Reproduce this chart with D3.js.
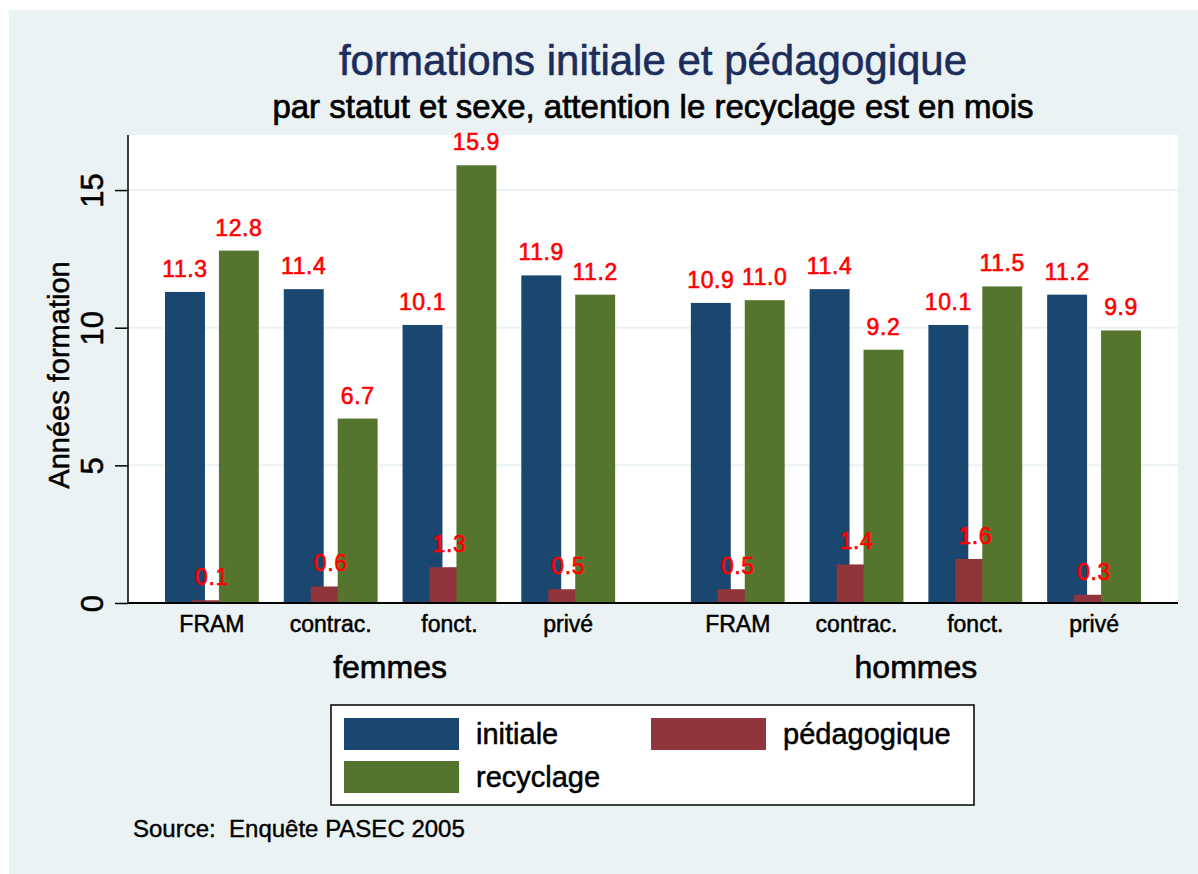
<!DOCTYPE html>
<html>
<head>
<meta charset="utf-8">
<script src="https://cdn.jsdelivr.net/npm/d3@7"></script>
<style>
  body { margin: 0; background: #fff; }
  text { font-family: "Liberation Sans", Arial, sans-serif; }
</style>
</head>
<body>
<div id="chart"></div>
<script>
// data
const sexes = ["femmes", "hommes"];
const statuts = ["FRAM", "contrac.", "fonct.", "privé"];
const series = ["initiale", "pédagogique", "recyclage"];
const initiale = [[11.3, 11.4, 10.1, 11.9], [10.9, 11.4, 10.1, 11.2]];
const pedagogique = [[0.1, 0.6, 1.3, 0.5], [0.5, 1.4, 1.6, 0.3]];
const recyclage = [[12.8, 6.7, 15.9, 11.2], [11.0, 9.2, 11.5, 9.9]];
const yTicks = [0, 5, 10, 15];

const colors = { "initiale": "#1a476f", "pédagogique": "#90353b", "recyclage": "#55752f" };
const values = { "initiale": initiale, "pédagogique": pedagogique, "recyclage": recyclage };

const W = 1198, H = 874;
const svg = d3.select("#chart").append("svg")
  .attr("width", W)
  .attr("height", H);

// thicker text, the reference looks a bit heavier than plain regular
function heavy(sel, color, w) {
  sel.style("fill", color).style("stroke", color).style("stroke-width", w || 0.5);
}

// outer background
svg.append("rect").attr("x", 9).attr("y", 10).attr("width", W - 9).attr("height", H - 10)
  .attr("fill", "#eaf2f3");

const plot = { left: 128, right: 1178, top: 135, bottom: 603 };

svg.append("rect")
  .attr("x", plot.left).attr("y", plot.top)
  .attr("width", plot.right - plot.left).attr("height", plot.bottom - plot.top)
  .attr("fill", "#fff");

const y = d3.scaleLinear().domain([0, 17]).range([plot.bottom, plot.top]);

const x0 = d3.scaleBand().domain(sexes).range([plot.left, plot.right])
  .paddingInner(0.144).paddingOuter(0.0704);
const x1 = d3.scaleBand().domain(statuts).range([0, x0.bandwidth()]).paddingInner(0.21);

// bars overlap a little (bar gap negative)
const overlapStep = 0.675;
const barW = x1.bandwidth() / (1 + 2 * overlapStep);
const xs = d3.scaleLinear().domain([0, 1]).range([0, barW * overlapStep]);

// gridlines
svg.append("g").selectAll("line")
  .data(yTicks.filter(d => d > 0))
  .enter().append("line")
  .attr("x1", plot.left).attr("x2", plot.right)
  .attr("y1", d => y(d)).attr("y2", d => y(d))
  .attr("stroke", "#eaf2f3").attr("stroke-width", 2);

// build rows
const rows = [];
sexes.forEach((s, si) => {
  statuts.forEach((st, ci) => {
    series.forEach((k, ki) => {
      rows.push({ sexe: s, statut: st, key: k, idx: ki, value: values[k][si][ci] });
    });
  });
});

const barX = d => x0(d.sexe) + x1(d.statut) + xs(d.idx);

svg.append("g").selectAll("rect")
  .data(rows)
  .enter().append("rect")
  .attr("x", barX)
  .attr("y", d => y(d.value))
  .attr("width", barW)
  .attr("height", d => y(0) - y(d.value))
  .attr("fill", d => colors[d.key]);

// value labels
svg.append("g").selectAll("text")
  .data(rows)
  .enter().append("text")
  .attr("x", d => barX(d) + barW / 2)
  .attr("y", d => y(d.value) - 15)
  .attr("text-anchor", "middle")
  .style("font-size", "23px")
  .style("letter-spacing", "0.6px")
  .call(heavy, "#ff0000", 0.6)
  .text(d => d.value.toFixed(1));

// axes
const yAxis = svg.append("g")
  .attr("transform", `translate(${plot.left},0)`)
  .call(d3.axisLeft(y).tickValues(yTicks).tickSize(13).tickFormat(d3.format("d")));
yAxis.select(".domain").attr("d", `M0,${plot.top}V${plot.bottom}`).attr("stroke", "#000").attr("stroke-width", 1.5);
yAxis.selectAll(".tick line").attr("stroke", "#000").attr("stroke-width", 1.5);
yAxis.selectAll(".tick text")
  .attr("x", 0).attr("y", 0).attr("dy", null)
  .attr("transform", "translate(-25,0) rotate(-90)")
  .attr("text-anchor", "middle")
  .style("font-size", "31px")
  .style("font-family", "'Liberation Sans', Arial, sans-serif")
  .call(heavy, "#000", 0.5);

svg.append("line")
  .attr("x1", plot.left).attr("x2", plot.right)
  .attr("y1", plot.bottom).attr("y2", plot.bottom)
  .attr("stroke", "#000").attr("stroke-width", 2);

// x category labels
const cats = [];
sexes.forEach(s => statuts.forEach(st => cats.push({ sexe: s, statut: st })));
svg.append("g").selectAll("text")
  .data(cats)
  .enter().append("text")
  .attr("x", d => x0(d.sexe) + x1(d.statut) + x1.bandwidth() / 2)
  .attr("y", 632)
  .attr("text-anchor", "middle")
  .style("font-size", "23px")
  .call(heavy, "#000", 0.5)
  .text(d => d.statut);

svg.append("g").selectAll("text")
  .data(sexes)
  .enter().append("text")
  .attr("x", d => x0(d) + x0.bandwidth() / 2)
  .attr("y", 678)
  .attr("text-anchor", "middle")
  .style("font-size", "32px")
  .call(heavy, "#000", 0.6)
  .text(d => d);

// axis title
svg.append("text")
  .attr("transform", `translate(69,${(plot.top + plot.bottom) / 2 + 6}) rotate(-90)`)
  .attr("text-anchor", "middle")
  .style("font-size", "29px")
  .call(heavy, "#000", 0.5)
  .text("Années formation");

// titles
const cx = (plot.left + plot.right) / 2;
svg.append("text")
  .attr("x", cx).attr("y", 75)
  .attr("text-anchor", "middle")
  .style("font-size", "42px")
  .call(heavy, "#1c2d5b", 0.6)
  .text("formations initiale et pédagogique");

svg.append("text")
  .attr("x", cx).attr("y", 118)
  .attr("text-anchor", "middle")
  .style("font-size", "33px")
  .call(heavy, "#000", 0.7)
  .text("par statut et sexe, attention le recyclage est en mois");

// legend
const legend = svg.append("g").attr("transform", "translate(331,705)");
legend.append("rect")
  .attr("width", 643).attr("height", 100)
  .attr("fill", "#fff").attr("stroke", "#000").attr("stroke-width", 1.5);

const legendPos = [
  { key: "initiale", x: 13, y: 13 },
  { key: "pédagogique", x: 320, y: 13 },
  { key: "recyclage", x: 13, y: 56 }
];
const li = legend.selectAll(".legend-item")
  .data(legendPos)
  .enter().append("g")
  .attr("class", "legend-item")
  .attr("transform", d => `translate(${d.x},${d.y})`);
li.append("rect").attr("width", 115).attr("height", 32).attr("fill", d => colors[d.key]);
li.append("text").attr("x", 132).attr("y", 26)
  .style("font-size", "29px")
  .call(heavy, "#000", 0.5)
  .text(d => d.key);

// source note
svg.append("text")
  .attr("x", 133).attr("y", 837)
  .style("font-size", "24px")
  .attr("xml:space", "preserve")
  .style("white-space", "pre")
  .call(heavy, "#000", 0.4)
  .text("Source:  Enquête PASEC 2005");
</script>
</body>
</html>
